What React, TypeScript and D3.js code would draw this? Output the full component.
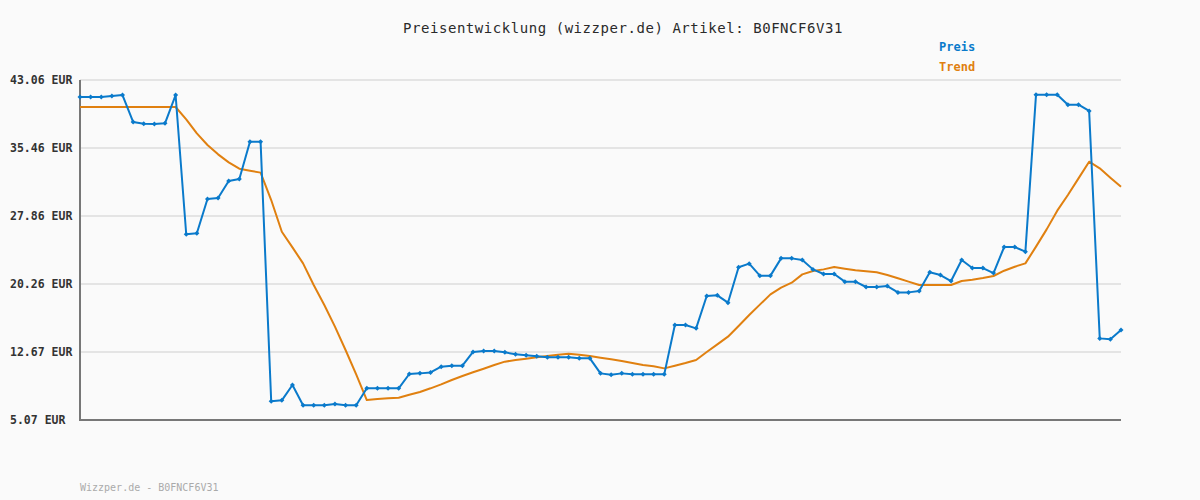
import React from "react";
import * as d3 from "d3";

const title = "Preisentwicklung (wizzper.de) Artikel: B0FNCF6V31";
const footer = "Wizzper.de - B0FNCF6V31";
const yTicks = [5.07, 12.67, 20.26, 27.86, 35.46, 43.06];
const legendLabels = ["Preis", "Trend"];

const preis = [
  41.16, 41.16, 41.16, 41.27, 41.38, 38.37, 38.18, 38.15, 38.22, 41.38,
  25.82, 25.93, 29.76, 29.87, 31.77, 32.0, 36.17, 36.17, 7.16, 7.27,
  8.98, 6.71, 6.71, 6.71, 6.86, 6.71, 6.71, 8.61, 8.61, 8.61,
  8.61, 10.21, 10.28, 10.39, 11.03, 11.14, 11.14, 12.67, 12.78, 12.78,
  12.63, 12.41, 12.3, 12.18, 12.07, 12.07, 12.07, 11.96, 11.96, 10.28,
  10.13, 10.28, 10.17, 10.17, 10.17, 10.17, 15.68, 15.68, 15.31, 18.92,
  19.0, 18.18, 22.13, 22.54, 21.2, 21.2, 23.13, 23.13, 22.95, 21.9,
  21.38, 21.38, 20.53, 20.53, 19.93, 19.93, 20.04, 19.33, 19.33, 19.48,
  21.57, 21.27, 20.6, 22.95, 22.05, 22.05, 21.49, 24.4, 24.4, 23.88,
  41.42, 41.42, 41.42, 40.3, 40.3, 39.6, 14.19, 14.08, 15.12,
];

const trend = [
  40.04, 40.04, 40.04, 40.04, 40.04, 40.04, 40.04, 40.04, 40.04, 40.04,
  38.67, 37.1, 35.8, 34.75, 33.86, 33.15, 32.93, 32.71, 29.65, 26.11,
  24.36, 22.57, 20.15, 17.92, 15.5, 12.89, 10.17, 7.3, 7.41, 7.49,
  7.56, 7.9, 8.2, 8.61, 9.05, 9.54, 9.98, 10.4, 10.8, 11.21,
  11.59, 11.77, 11.92, 12.07, 12.22, 12.37, 12.48, 12.37, 12.22, 12.03,
  11.85, 11.66, 11.44, 11.21, 11.07, 10.84, 11.14, 11.44, 11.77, 12.67,
  13.52, 14.38, 15.57, 16.8, 17.96, 19.11, 19.86, 20.41, 21.34, 21.72,
  21.9, 22.16, 21.98, 21.79, 21.68, 21.57, 21.27, 20.9, 20.53, 20.15,
  20.15, 20.15, 20.15, 20.6, 20.75, 20.94, 21.16, 21.75, 22.2, 22.57,
  24.44, 26.37, 28.46, 30.21, 32.07, 33.93, 33.19, 32.15, 31.14,
];

const W = 1200;
const H = 500;
const left = 80;
const right = 1121;
const top = 80;
const bottom = 420;
const BLUE = "#0a7acb";
const ORANGE = "#e08010";
const MONO = "'DejaVu Sans Mono', 'Liberation Mono', monospace";

export default function App() {
  const x = d3.scaleLinear().domain([0, preis.length - 1]).range([left, right]);
  const y = d3.scaleLinear().domain([5.07, 43.06]).range([bottom, top]);
  const line = d3
    .line<number>()
    .x((_, i) => x(i))
    .y((d) => y(d));

  return (
    <svg
      width={W}
      height={H}
      style={{ position: "absolute", left: 0, top: 0, display: "block" }}
    >
      <rect x={0} y={0} width={W} height={H} fill="#fafafa" />
      <text
        x={623}
        y={33}
        textAnchor="middle"
        fontFamily={MONO}
        fontSize={14}
        letterSpacing={0.55}
        fill="#2a2a2a"
      >
        {title}
      </text>
      {legendLabels.map((l, i) => (
        <text
          key={l}
          x={939}
          y={51 + i * 20}
          fontFamily={MONO}
          fontSize={12}
          fontWeight="bold"
          fill={i === 0 ? BLUE : ORANGE}
        >
          {l}
        </text>
      ))}
      {yTicks.map((t) => (
        <g key={t}>
          {t !== yTicks[0] && (
            <line
              x1={left}
              x2={right}
              y1={y(t)}
              y2={y(t)}
              stroke="#e4e4e4"
              strokeWidth={2}
            />
          )}
          <text
            x={10}
            y={y(t) + 4}
            fontFamily={MONO}
            fontSize={11.5}
            fontWeight="bold"
            fill="#333"
          >
            {t.toFixed(2)} EUR
          </text>
        </g>
      ))}
      <line x1={left} x2={left} y1={top} y2={bottom + 1} stroke="#777" strokeWidth={2} />
      <line x1={left} x2={right} y1={bottom} y2={bottom} stroke="#777" strokeWidth={2} />
      <path d={line(trend) || ""} fill="none" stroke={ORANGE} strokeWidth={2} strokeLinejoin="round" />
      <path d={line(preis) || ""} fill="none" stroke={BLUE} strokeWidth={2} strokeLinejoin="round" />
      {preis.map((v, i) => (
        <path
          key={i}
          d={`M${x(i) - 2.5},${y(v)}L${x(i)},${y(v) - 2.5}L${x(i) + 2.5},${y(v)}L${x(i)},${y(v) + 2.5}Z`}
          fill={BLUE}
        />
      ))}
      <text x={80} y={491} fontFamily={MONO} fontSize={10} fill="#aaa">
        {footer}
      </text>
    </svg>
  );
}
